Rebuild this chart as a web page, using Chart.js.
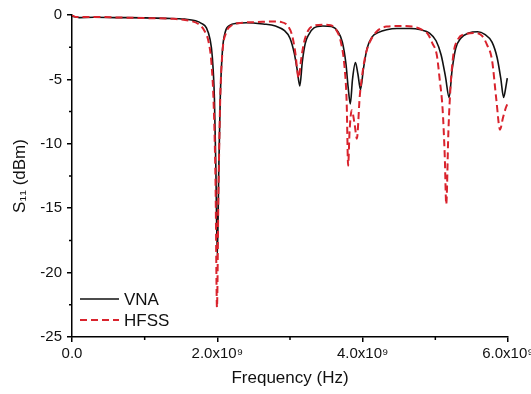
<!DOCTYPE html>
<html>
<head>
<meta charset="utf-8">
<script src="https://cdn.jsdelivr.net/npm/chart.js@4.4.1/dist/chart.umd.min.js"></script>
<style>
  html, body { margin: 0; padding: 0; background: #fff; }
  canvas { display: block; }
</style>
</head>
<body>
<canvas id="chart" width="531" height="394"></canvas>
<script>
// frequency in units of 1e9 Hz, S11 in dBm
const vnaFreq = [0.00, 0.10, 0.30, 0.60, 1.00, 1.30, 1.55, 1.70, 1.78, 1.85, 1.90, 1.93, 1.96, 1.98, 2.00, 2.02, 2.04, 2.07, 2.11, 2.17,
  2.27, 2.40, 2.63, 2.80, 2.92, 3.00, 3.06, 3.10, 3.135, 3.17, 3.21, 3.26, 3.33, 3.45, 3.57, 3.66, 3.72, 3.77, 3.80, 3.83,
  3.86, 3.90, 3.935, 3.97, 4.01, 4.06, 4.13, 4.22, 4.33, 4.47, 4.65, 4.80, 4.92, 5.01, 5.08, 5.14, 5.19, 5.23, 5.28, 5.35,
  5.46, 5.58, 5.68, 5.78, 5.85, 5.90, 5.94, 5.97, 5.99];
const vnaS11 = [-0.1, -0.2, -0.18, -0.2, -0.22, -0.26, -0.32, -0.45, -0.65, -1.0, -1.9, -3.2, -6.5, -12, -18.8, -12, -6.5, -2.8, -1.3, -0.8,
  -0.65, -0.6, -0.7, -0.85, -1.2, -1.8, -3.0, -4.3, -5.5, -3.6, -2.2, -1.5, -1.0, -0.85, -0.9, -1.3, -2.1, -3.8, -5.6, -6.9,
  -5.0, -3.7, -4.6, -5.8, -4.2, -2.6, -1.7, -1.35, -1.15, -1.05, -1.05, -1.15, -1.4, -2.0, -3.1, -4.8, -6.4, -4.3, -2.6, -1.8,
  -1.4, -1.3, -1.5, -2.1, -3.3, -4.9, -6.4, -5.6, -4.9];

const hfssFreq = [0.00, 0.05, 0.30, 0.70, 1.10, 1.40, 1.62, 1.74, 1.82, 1.88, 1.92, 1.95, 1.975, 1.995, 2.015, 2.04, 2.07, 2.12, 2.20, 2.35,
  2.55, 2.75, 2.88, 2.97, 3.03, 3.07, 3.12, 3.15, 3.19, 3.25, 3.32, 3.45, 3.56, 3.64, 3.70, 3.75, 3.78, 3.80, 3.82, 3.85,
  3.89, 3.92, 3.96, 4.00, 4.04, 4.09, 4.19, 4.33, 4.50, 4.68, 4.80, 4.90, 4.96, 5.02, 5.06, 5.10, 5.13, 5.15, 5.18, 5.21,
  5.25, 5.31, 5.40, 5.55, 5.64, 5.71, 5.78, 5.84, 5.89, 5.93, 5.97, 6.00];
const hfssS11 = [0.0, -0.15, -0.15, -0.2, -0.25, -0.3, -0.45, -0.7, -1.2, -2.1, -3.8, -7, -13, -22.7, -14, -6.5, -2.9, -1.4, -0.8, -0.6,
  -0.55, -0.5, -0.55, -0.85, -1.6, -2.8, -4.9, -3.6, -2.2, -1.2, -0.85, -0.75, -0.8, -1.2, -2.1, -4.0, -6.8, -11.7, -9.0, -7.4,
  -8.5, -9.6, -6.3, -4.4, -3.1, -2.2, -1.3, -0.9, -0.85, -0.9, -1.1, -1.5, -2.2, -3.1, -5.0, -7.3, -11, -14.7, -9, -5.5,
  -3.0, -1.9, -1.5, -1.4, -1.6, -2.3, -3.5, -6.6, -8.9, -8.0, -7.2, -6.8];

const xTickLabels = ['0.0', '2.0x10⁹', '4.0x10⁹', '6.0x10⁹'];
const xMinorTicks = [1, 3, 5];
const yMinorTicks = [-2.5, -7.5, -12.5, -17.5, -22.5];

const toPoints = (xs, ys) => xs.map((x, i) => ({ x: x, y: ys[i] }));

Chart.defaults.font.family = '"Liberation Sans", Arial, sans-serif';
Chart.defaults.color = '#111';

// minor ticks and an in-plot legend
const extras = {
  id: 'extras',
  afterDraw(chart) {
    const ctx = chart.ctx;
    const xs = chart.scales.x, ys = chart.scales.y;
    const area = chart.chartArea;
    ctx.save();
    ctx.strokeStyle = '#000';
    ctx.lineWidth = 1.5;
    ctx.beginPath();
    xMinorTicks.forEach(v => {
      const px = xs.getPixelForValue(v);
      ctx.moveTo(px, area.bottom);
      ctx.lineTo(px, area.bottom + 3);
    });
    yMinorTicks.forEach(v => {
      const py = ys.getPixelForValue(v);
      ctx.moveTo(area.left, py);
      ctx.lineTo(area.left - 3, py);
    });
    ctx.stroke();

    ctx.font = '17px "Liberation Sans", Arial, sans-serif';
    ctx.textBaseline = 'middle';
    ctx.fillStyle = '#111';
    chart.data.datasets.forEach((ds, i) => {
      const ly = area.bottom - 38 + i * 21;
      ctx.strokeStyle = ds.borderColor;
      ctx.lineWidth = ds.borderWidth;
      ctx.setLineDash(ds.borderDash || []);
      ctx.beginPath();
      ctx.moveTo(area.left + 8, ly);
      ctx.lineTo(area.left + 47, ly);
      ctx.stroke();
      ctx.setLineDash([]);
      ctx.fillText(ds.label, area.left + 52, ly + 1);
    });
    ctx.restore();
  }
};

new Chart(document.getElementById('chart'), {
  type: 'line',
  data: {
    datasets: [
      {
        label: 'VNA',
        data: toPoints(vnaFreq, vnaS11),
        borderColor: '#111',
        borderWidth: 1.6,
        pointRadius: 0,
        cubicInterpolationMode: 'monotone',
        order: 1
      },
      {
        label: 'HFSS',
        data: toPoints(hfssFreq, hfssS11),
        borderColor: '#d9232d',
        borderWidth: 2,
        borderDash: [7, 4],
        pointRadius: 0,
        cubicInterpolationMode: 'monotone',
        order: 0
      }
    ]
  },
  options: {
    responsive: false,
    animation: false,
    layout: { padding: { top: 15, right: 23, left: 0, bottom: 0 } },
    plugins: { legend: { display: false }, tooltip: { enabled: false } },
    scales: {
      x: {
        type: 'linear',
        min: 0,
        max: 6,
        border: { display: true, color: '#000', width: 1.5 },
        grid: { drawOnChartArea: false, drawTicks: true, tickLength: 5, color: '#000', lineWidth: 1.5 },
        ticks: {
          stepSize: 2,
          padding: 3,
          maxRotation: 0,
          font: { size: 15 },
          callback: (v, i) => xTickLabels[i]
        },
        title: { display: true, text: 'Frequency (Hz)', font: { size: 17 }, padding: { top: 0, bottom: 5 } },
        afterFit(s) { s.height = 57; s.paddingLeft = 0; s.paddingRight = 0; }
      },
      y: {
        min: -25,
        max: 0,
        border: { display: true, color: '#000', width: 1.5 },
        grid: { drawOnChartArea: false, drawTicks: true, tickLength: 5, color: '#000', lineWidth: 1.5 },
        ticks: { stepSize: 5, padding: 5, font: { size: 15 } },
        title: { display: true, text: 'S₁₁ (dBm)', font: { size: 17 }, padding: { top: 10, bottom: 0 } },
        afterFit(s) { s.width = 72; s.paddingTop = 0; s.paddingBottom = 0; }
      }
    }
  },
  plugins: [extras]
});
</script>
</body>
</html>
